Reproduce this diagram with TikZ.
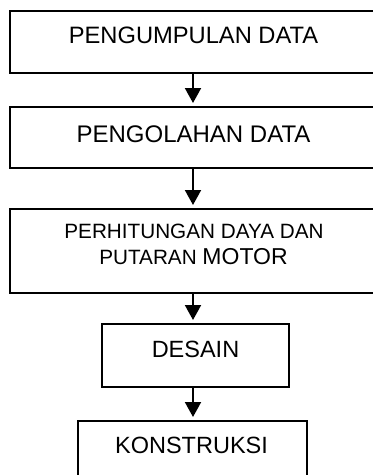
\documentclass[tikz,border=0pt]{standalone}
\usepackage{fontspec}
\setmainfont{Liberation Sans}
\usetikzlibrary{arrows.meta}
\begin{document}
\begin{tikzpicture}[x=1pt,y=-1pt,
  box/.style={draw=black, line width=2pt, inner sep=0pt, outer sep=0pt, rectangle},
  txt/.style={inner sep=0pt, outer sep=0pt, anchor=base, text=black},
  arr/.style={line width=2pt, -{Triangle[width=16pt,length=15pt]}, shorten >=4pt}]
\useasboundingbox (0,0) rectangle (373,475);
\coordinate (ax) at (193,0);
% boxes
\node[box, minimum width=374pt, minimum height=62pt] (b1) at (197,42) {};
\node[box, minimum width=374pt, minimum height=61pt] (b2) at (197,137.5) {};
\node[box, minimum width=374pt, minimum height=84pt] (b3) at (197,251) {};
\node[box, minimum width=187pt, minimum height=63pt] (b4) at (195.5,355.5) {};
\node[box, minimum width=229pt, minimum height=64pt] (b5) at (192.5,453) {};
% texts
\node[txt, font=\fontsize{23.7}{28}\selectfont] (t1) at (193.5,43) {PENGUMPULAN DATA};
\node[txt, font=\fontsize{24}{28}\selectfont] (t2) at (193.5,142) {PENGOLAHAN DATA};
\node[txt, font=\fontsize{20.7}{25}\selectfont] (t3a) at (194,238) {PERHITUNGAN DAYA DAN};
\node[txt, font=\fontsize{20.7}{25}\selectfont] (t3b) at (193.5,264) {PUTARAN {\fontsize{23}{27}\selectfont MOTOR}};
\node[txt, font=\fontsize{23.5}{28}\selectfont] (t4) at (195.5,357) {DESAIN};
\node[txt, font=\fontsize{23.5}{28}\selectfont] (t5) at (191.5,453) {KONSTRUKSI};
% arrows
\draw[arr] (b1.south -| ax) -- (b2.north -| ax);
\draw[arr] (b2.south -| ax) -- (b3.north -| ax);
\draw[arr] (b3.south -| ax) -- (b4.north -| ax);
\draw[arr] (b4.south -| ax) -- (b5.north -| ax);
\end{tikzpicture}
\end{document}
